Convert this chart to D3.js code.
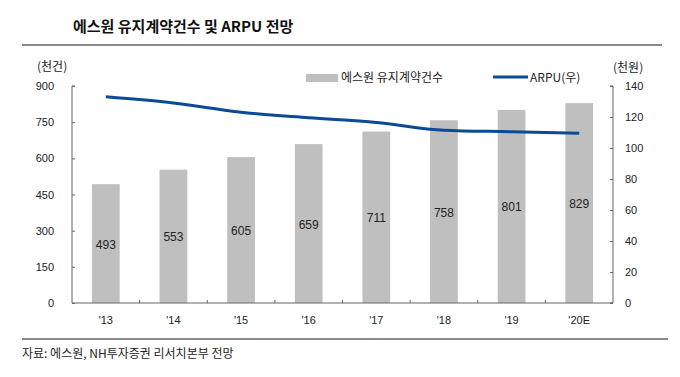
<!DOCTYPE html>
<html>
<head>
<meta charset="utf-8">
<script src="https://cdn.jsdelivr.net/npm/d3@7"></script>
<style>
  body { margin: 0; background: #fff; }
  svg text { font-family: "Liberation Sans", "Noto Sans CJK KR", sans-serif; }
</style>
</head>
<body>
<svg id="chart" width="680" height="377"></svg>
<script>
// data
var years = ["'13", "'14", "'15", "'16", "'17", "'18", "'19", "'20E"];
var contracts = [493, 553, 605, 659, 711, 758, 801, 829];
var arpu = [133, 129, 123, 119.5, 116.5, 111.5, 110.5, 109.5];
var leftTicks = [0, 150, 300, 450, 600, 750, 900];
var rightTicks = [0, 20, 40, 60, 80, 100, 120, 140];

(function () {
  var svg = d3.select('#chart');
  var left = 72, right = 613, top = 86, bottom = 303;
  var axisColor = '#666';

  var x = d3.scaleBand().domain(years).range([left, right]).paddingInner(0.59).paddingOuter(0.295);
  var yL = d3.scaleLinear().domain([0, 900]).range([bottom, top]);
  var yR = d3.scaleLinear().domain([0, 140]).range([bottom, top]);

  // title
  svg.append('text')
    .attr('x', 73).attr('y', 32)
    .attr('font-size', '15px').attr('font-weight', 'bold')
    .attr('fill', '#111')
    .style('font-family', '"Noto Sans CJK KR", sans-serif')
    .text('에스원 유지계약건수 및 ARPU 전망');

  svg.append('line').attr('x1', 22).attr('x2', 662).attr('y1', 45).attr('y2', 45)
    .attr('stroke', '#8a8a8a').attr('stroke-width', 2);
  svg.append('line').attr('x1', 22).attr('x2', 668).attr('y1', 339).attr('y2', 339)
    .attr('stroke', '#8a8a8a').attr('stroke-width', 2);

  // units
  svg.append('text').attr('x', 37).attr('y', 71).attr('font-size', '12px').attr('fill', '#222')
    .style('font-family', '"Noto Sans CJK KR", sans-serif').text('(천건)');
  svg.append('text').attr('x', 613).attr('y', 72).attr('font-size', '12px').attr('fill', '#222')
    .style('font-family', '"Noto Sans CJK KR", sans-serif').text('(천원)');

  // bars
  svg.append('g').selectAll('rect')
    .data(contracts)
    .enter()
    .append('rect')
    .attr('x', (d, i) => x(years[i]))
    .attr('width', x.bandwidth())
    .attr('y', d => yL(d))
    .attr('height', d => yL(0) - yL(d))
    .attr('fill', '#bfbfbf');

  svg.append('g').selectAll('text')
    .data(contracts)
    .enter()
    .append('text')
    .attr('x', (d, i) => x(years[i]) + x.bandwidth() / 2)
    .attr('y', d => (yL(d) + yL(0)) / 2 + 5)
    .attr('text-anchor', 'middle')
    .attr('font-size', '12px')
    .attr('fill', '#222')
    .text(d => d);

  // line
  var line = d3.line()
    .x((d, i) => x(years[i]) + x.bandwidth() / 2)
    .y(d => yR(d))
    .curve(d3.curveMonotoneX);
  svg.append('path')
    .attr('d', line(arpu))
    .attr('fill', 'none')
    .attr('stroke', '#0b4a96')
    .attr('stroke-width', 3);

  // axes
  var axisL = d3.axisLeft(yL).tickValues(leftTicks).tickSize(3).tickPadding(15);
  var gL = svg.append('g').attr('transform', 'translate(' + left + ',0)').call(axisL);
  gL.select('.domain').attr('stroke', axisColor).attr('d', 'M3,' + top + 'H0V' + bottom);
  gL.selectAll('.tick line').attr('stroke', axisColor).attr('x2', 3);
  gL.selectAll('text').attr('font-size', '11px').attr('fill', '#222').style('font-family', 'Liberation Sans');

  var axisR = d3.axisRight(yR).tickValues(rightTicks).tickSize(3).tickPadding(9);
  var gR = svg.append('g').attr('transform', 'translate(' + right + ',0)').call(axisR);
  gR.select('.domain').attr('stroke', axisColor).attr('d', 'M-3,' + top + 'H0V' + bottom + 'H-3');
  gR.selectAll('.tick line').attr('stroke', axisColor).attr('x2', -3);
  gR.selectAll('text').attr('font-size', '11px').attr('fill', '#222').style('font-family', 'Liberation Sans');

  var axisB = d3.axisBottom(x).tickSize(0).tickPadding(13);
  var gB = svg.append('g').attr('transform', 'translate(0,' + bottom + ')').call(axisB);
  gB.select('.domain').attr('stroke', axisColor).attr('d', 'M' + left + ',0H' + right);
  gB.selectAll('text').attr('font-size', '11px').attr('fill', '#222').style('font-family', 'Liberation Sans');
  // separators between categories
  gB.append('g').selectAll('line')
    .data(years.slice(1))
    .enter()
    .append('line')
    .attr('x1', d => x(d) - x.step() * x.paddingInner() / 2)
    .attr('x2', d => x(d) - x.step() * x.paddingInner() / 2)
    .attr('y1', 0).attr('y2', -3)
    .attr('stroke', axisColor);

  // legend
  var lg = svg.append('g');
  lg.append('rect').attr('x', 306).attr('y', 74).attr('width', 32).attr('height', 8).attr('fill', '#bfbfbf');
  lg.append('text').attr('x', 341).attr('y', 82).attr('font-size', '12px').attr('fill', '#222')
    .style('font-family', '"Noto Sans CJK KR", sans-serif').text('에스원 유지계약건수');
  lg.append('line').attr('x1', 493).attr('x2', 528).attr('y1', 77).attr('y2', 77)
    .attr('stroke', '#0b4a96').attr('stroke-width', 3);
  lg.append('text').attr('x', 530).attr('y', 82).attr('font-size', '12px').attr('fill', '#222')
    .style('font-family', '"Noto Sans CJK KR", sans-serif').text('ARPU(우)');

  // source
  svg.append('text').attr('x', 22).attr('y', 358).attr('font-size', '12px').attr('fill', '#222')
    .style('font-family', '"Noto Sans CJK KR", sans-serif')
    .text('자료: 에스원, NH투자증권 리서치본부 전망');
})()
</script>
</body>
</html>
